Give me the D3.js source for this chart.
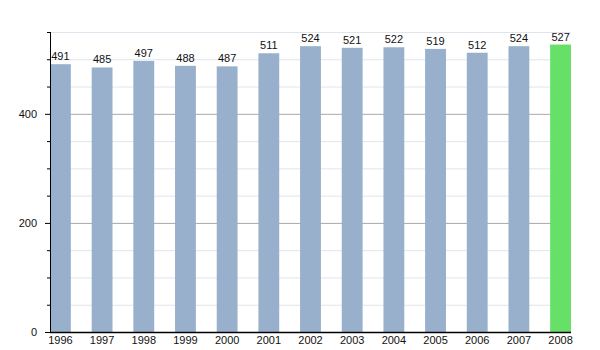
<!DOCTYPE html>
<html><head><meta charset="utf-8">
<script src="https://cdn.jsdelivr.net/npm/d3@7"></script>
<style>body{margin:0;background:#fff}text{font-family:"Liberation Sans",Arial,sans-serif}</style>
</head><body>
<svg id="c" width="600" height="350"></svg>
<script>
const years = ["1996","1997","1998","1999","2000","2001","2002","2003","2004","2005","2006","2007","2008"];
const values = [491,485,497,488,487,511,524,521,522,519,512,524,527];
const majorTicks = [0,200,400];
const minorTicks = [50,100,150,250,300,350,450,500,550];

const svg = d3.select("#c");
const x0 = 50, x1 = 571, yb = 332, yt = 32;
const x = d3.scaleBand().domain(years).range([x0, x1]).paddingInner(0.5).paddingOuter(0);
const y = d3.scaleLinear().domain([0,550]).range([yb, yt]);

// minor grid
svg.append("g").selectAll("line").data(minorTicks).join("line")
  .attr("x1", x0).attr("x2", x1).attr("y1", d=>y(d)+0.5).attr("y2", d=>y(d)+0.5)
  .attr("stroke", "#dfe5ee").attr("stroke-width", 1);
// major grid
svg.append("g").selectAll("line").data(majorTicks.filter(d=>d>0)).join("line")
  .attr("x1", x0).attr("x2", x1).attr("y1", d=>y(d)+0.5).attr("y2", d=>y(d)+0.5)
  .attr("stroke", "#a9a9a9").attr("stroke-width", 1);

// bars
svg.append("g").selectAll("rect").data(values).join("rect")
  .attr("x", (d,i)=>x(years[i])).attr("width", x.bandwidth())
  .attr("y", d=>y(d)).attr("height", d=>yb - y(d))
  .attr("fill", (d,i)=> i===values.length-1 ? "#66e066" : "#98b0cb");

// value labels
svg.append("g").selectAll("text").data(values).join("text")
  .attr("x", (d,i)=>x(years[i]) + x.bandwidth()/2).attr("y", d=>y(d)-4)
  .attr("text-anchor","middle").attr("font-size", 11).attr("fill","#111")
  .text(d=>d);

// y axis
const yAxis = d3.axisLeft(y).tickValues(majorTicks).tickSize(5).tickSizeOuter(0).tickFormat(d3.format("d"));
const gy = svg.append("g").attr("transform", `translate(${x0},0)`).call(yAxis);
gy.select(".domain").attr("stroke","#000").attr("d", `M0.5,${yt}V${yb}`);
gy.selectAll(".tick line").attr("stroke","#000");
gy.selectAll(".tick text").attr("font-size",11).attr("font-family","Liberation Sans, Arial, sans-serif").attr("fill","#111").attr("x",-13);
// minor ticks
const yMinor = d3.axisLeft(y).tickValues(minorTicks).tickSize(3).tickFormat("");
const gm = svg.append("g").attr("transform", `translate(${x0},0)`).call(yMinor);
gm.select(".domain").remove();
gm.selectAll(".tick line").attr("stroke","#000");

// x axis
const xAxis = d3.axisBottom(x).tickSize(0).tickSizeOuter(0);
const gx = svg.append("g").attr("transform", `translate(0,${yb})`).call(xAxis);
gx.select(".domain").attr("stroke","#000").attr("stroke-width",1.5).attr("d", `M${x0},0.5H${x1}`);
gx.selectAll(".tick text").attr("font-size",11).attr("font-family","Liberation Sans, Arial, sans-serif").attr("fill","#111").attr("dy","0.71em").attr("y",4);
</script>
</body></html>
